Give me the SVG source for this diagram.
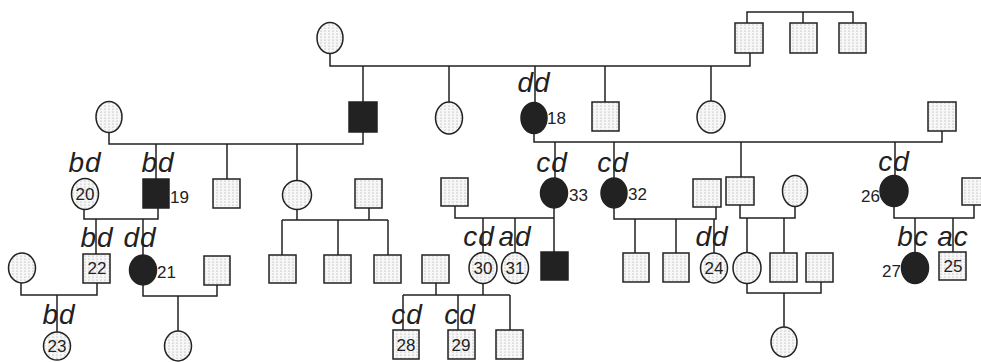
<svg xmlns="http://www.w3.org/2000/svg" width="981" height="362" viewBox="0 0 981 362">
<defs>
<pattern id="dots" width="4" height="3" patternUnits="userSpaceOnUse">
<rect width="4" height="3" fill="#f7f7f7"/>
<circle cx="1" cy="1" r="0.6" fill="#999"/>
</pattern>
</defs>
<style>
.ln{stroke:#222;stroke-width:1.5;fill:none}
.u{fill:url(#dots);stroke:#222;stroke-width:1.5}
.a{fill:#222;stroke:#222;stroke-width:1.5}
.g{font-family:"Liberation Sans",Arial,sans-serif;font-style:italic;font-size:28px;fill:#222;text-anchor:middle;letter-spacing:1px}
.n{font-family:"Liberation Sans",Arial,sans-serif;font-size:17px;fill:#222}
.c{text-anchor:middle}
.e{text-anchor:end}
</style>
<rect width="981" height="362" fill="#fff"/>
<g id="connectors" class="ln">
<path d="M747 23V12H853V23M803 12V23"/>
<path d="M330 53.5V66H750V53M363 66V102M449 66V102M535 66V102.5M605 66V102M711 66V101"/>
<path d="M109 132.5V144H363V132M156 144V179M227 144V179M297 144V180.5"/>
<path d="M534 133.5V142H942V131M555 142V178M614 142V178M741 142V177M895 142V175.5"/>
<path d="M84 209.5V219H158V208M96 219V254M143 219V255"/>
<path d="M297 209.5V220M369 208V220M282 220H388M282 220V255M338 220V255M388 220V255"/>
<path d="M455 206V218H554V208M483 218V252.5M515 218V252.5M554 218V252"/>
<path d="M614 208V219H716V207M635 219V253M676 219V253M714 219V253"/>
<path d="M740 205V218H795V206.5M747 218V252.5M784 218V253"/>
<path d="M894 206.5V218H974V205M915 218V252.5M953 218V252"/>
<path d="M21 283V295H97V283M57 295V332"/>
<path d="M143 285V296H217V285M178 296V331"/>
<path d="M436 283V295M483 283.5V295M403 295H510M403 295V330M458 295V330M510 295V330"/>
<path d="M747 283.5V293H821V282M784 293V327"/>
</g>
<g id="gen0">
<g id="i1"><ellipse class="u" cx="330" cy="38" rx="13" ry="15.5"/></g>
<g id="i2"><rect class="u" x="735" y="23" width="28" height="30"/></g>
<g id="i3"><rect class="u" x="790" y="23" width="27" height="30"/></g>
<g id="i4"><rect class="u" x="839" y="23" width="27" height="30"/></g>
</g>
<g id="gen1">
<g id="ii1"><ellipse class="u" cx="109" cy="117" rx="13" ry="15.5"/></g>
<g id="ii2"><rect class="a" x="349" y="102" width="28" height="30"/></g>
<g id="ii3"><ellipse class="u" cx="449" cy="118" rx="13.5" ry="16"/></g>
<g id="n18"><ellipse class="a" cx="534" cy="118" rx="13" ry="15.5"/><text class="g" x="534" y="92">dd</text><text class="n" x="547" y="124">18</text></g>
<g id="ii5"><rect class="u" x="592" y="102" width="27" height="29"/></g>
<g id="ii6"><ellipse class="u" cx="711" cy="117" rx="14" ry="16"/></g>
<g id="ii7"><rect class="u" x="928" y="102" width="28" height="29"/></g>
</g>
<g id="gen2">
<g id="n20"><ellipse class="u" cx="85" cy="194" rx="13.5" ry="15.5"/><text class="g" x="85" y="172">bd</text><text class="n c" x="85" y="200">20</text></g>
<g id="n19"><rect class="a" x="143" y="179" width="26" height="29"/><text class="g" x="158" y="172">bd</text><text class="n" x="170" y="203">19</text></g>
<g id="iii3"><rect class="u" x="213" y="179" width="27" height="29"/></g>
<g id="iii4"><ellipse class="u" cx="297" cy="195" rx="14.5" ry="14.5"/></g>
<g id="iii5"><rect class="u" x="355" y="179" width="27" height="29"/></g>
<g id="iii6"><rect class="u" x="441" y="178" width="27" height="28"/></g>
<g id="n33"><ellipse class="a" cx="554" cy="193" rx="13.5" ry="15"/><text class="g" x="552" y="172">cd</text><text class="n" x="569" y="201">33</text></g>
<g id="n32"><ellipse class="a" cx="614" cy="193" rx="13" ry="15"/><text class="g" x="613" y="172">cd</text><text class="n" x="628" y="200">32</text></g>
<g id="iii9"><rect class="u" x="693" y="179" width="28" height="28"/></g>
<g id="iii10"><rect class="u" x="726" y="177" width="28" height="28"/></g>
<g id="iii11"><ellipse class="u" cx="795" cy="191" rx="12.5" ry="15.5"/></g>
<g id="n26"><ellipse class="a" cx="894" cy="191" rx="14" ry="15.5"/><text class="g" x="894" y="171">cd</text><text class="n e" x="880" y="202">26</text></g>
<g id="iii13"><rect class="u" x="962" y="178" width="27" height="27"/></g>
</g>
<g id="gen3">
<g id="iv1"><ellipse class="u" cx="22" cy="268" rx="13.5" ry="15"/></g>
<g id="n22"><rect class="u" x="83" y="254" width="27" height="29"/><text class="g" x="97" y="247">bd</text><text class="n c" x="97" y="274">22</text></g>
<g id="n21"><ellipse class="a" cx="143" cy="270" rx="13.5" ry="15"/><text class="g" x="140" y="247">dd</text><text class="n" x="157" y="278">21</text></g>
<g id="iv4"><rect class="u" x="204" y="256" width="26" height="29"/></g>
<g id="iv5"><rect class="u" x="269" y="255" width="27" height="28"/></g>
<g id="iv6"><rect class="u" x="324" y="255" width="27" height="28"/></g>
<g id="iv7"><rect class="u" x="374" y="255" width="27" height="28"/></g>
<g id="iv8"><rect class="u" x="422" y="255" width="27" height="28"/></g>
<g id="n30"><ellipse class="u" cx="483" cy="268" rx="14" ry="15.5"/><text class="g" x="479" y="246">cd</text><text class="n c" x="483" y="274">30</text></g>
<g id="n31"><ellipse class="u" cx="515" cy="268" rx="13.5" ry="15.5"/><text class="g" x="515" y="246">ad</text><text class="n c" x="515" y="274">31</text></g>
<g id="iv11"><rect class="a" x="541" y="252" width="27" height="28"/></g>
<g id="iv12"><rect class="u" x="623" y="253" width="26" height="29"/></g>
<g id="iv13"><rect class="u" x="663" y="253" width="26" height="29"/></g>
<g id="n24"><ellipse class="u" cx="714" cy="268" rx="13.5" ry="15"/><text class="g" x="712" y="246">dd</text><text class="n c" x="714" y="274">24</text></g>
<g id="iv15"><ellipse class="u" cx="747" cy="268" rx="14" ry="15.5"/></g>
<g id="iv16"><rect class="u" x="770" y="253" width="27" height="29"/></g>
<g id="iv17"><rect class="u" x="806" y="253" width="27" height="29"/></g>
<g id="n27"><ellipse class="a" cx="915" cy="268" rx="13.5" ry="15.5"/><text class="g" x="913" y="246">bc</text><text class="n e" x="901" y="277">27</text></g>
<g id="n25"><rect class="u" x="939" y="252" width="27" height="28"/><text class="g" x="953" y="246">ac</text><text class="n c" x="953" y="272">25</text></g>
</g>
<g id="gen4">
<g id="n23"><ellipse class="u" cx="57" cy="346" rx="13.5" ry="14"/><text class="g" x="59" y="324">bd</text><text class="n c" x="57" y="352">23</text></g>
<g id="v2"><ellipse class="u" cx="178" cy="346" rx="13.5" ry="15"/></g>
<g id="n28"><rect class="u" x="393" y="330" width="26" height="29"/><text class="g" x="407" y="324">cd</text><text class="n c" x="406" y="351">28</text></g>
<g id="n29"><rect class="u" x="448" y="330" width="27" height="29"/><text class="g" x="460" y="324">cd</text><text class="n c" x="461" y="351">29</text></g>
<g id="v5"><rect class="u" x="496" y="330" width="27" height="29"/></g>
<g id="v6"><ellipse class="u" cx="784" cy="342" rx="13" ry="15"/></g>
</g>
</svg>
